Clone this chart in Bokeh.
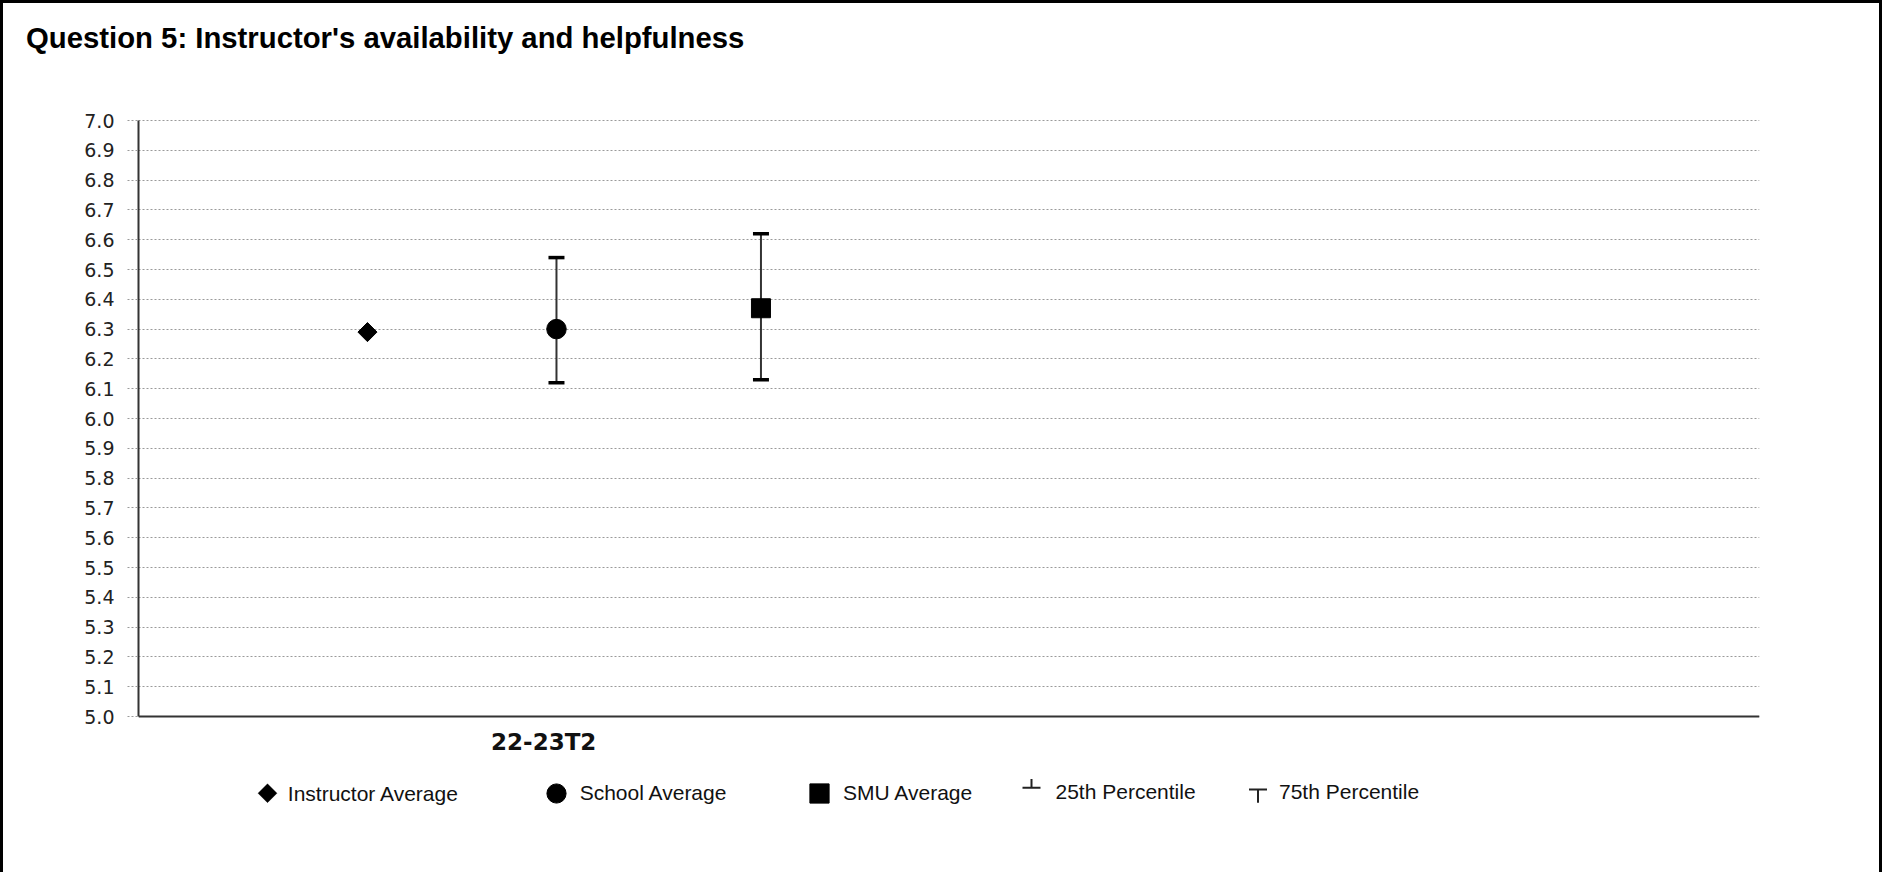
from math import pi
from bokeh.plotting import figure
from bokeh.models import (FactorRange, Range1d, FixedTicker, Whisker, TeeHead,
                          ColumnDataSource, Legend, LegendItem, Label, Arrow,
                          PolyAnnotation)
from bokeh.transform import dodge
from bokeh.embed import file_html
from bokeh.resources import INLINE

# ---------------- data ----------------
title_text = "Question 5: Instructor's availability and helpfulness"
terms = ["22-23T2", " "]          # category slots on the x axis (second is empty)
term = ["22-23T2"]
instructor_avg = [6.29]
school_avg = [6.30]
school_p25 = [6.12]
school_p75 = [6.54]
smu_avg = [6.37]
smu_p25 = [6.13]
smu_p75 = [6.62]
y_ticks = [5.0, 5.1, 5.2, 5.3, 5.4, 5.5, 5.6, 5.7, 5.8, 5.9, 6.0,
           6.1, 6.2, 6.3, 6.4, 6.5, 6.6, 6.7, 6.8, 6.9, 7.0]
y_tick_labels = ["5.0", "5.1", "5.2", "5.3", "5.4", "5.5", "5.6", "5.7", "5.8", "5.9", "6.0",
                 "6.1", "6.2", "6.3", "6.4", "6.5", "6.6", "6.7", "6.8", "6.9", "7.0"]
legend_labels = ["Instructor Average", "School Average", "SMU Average",
                 "25th Percentile", "75th Percentile"]
y_min, y_max = 5.0, 7.0

# ---------------- geometry (canvas pixels) ----------------
W, H = 1882, 872
FL, FR = 135, 1756                  # frame left / right
TOP_Y = 117                         # where y = 7.0 sits
AXIS_Y = 713                        # where y = 5.0 sits
FT = 65                             # frame top (title panel above it)
MB = 50                             # bottom border (x-axis panel)
FB = H - MB                         # frame bottom; legend lives inside the frame
ppu = (AXIS_Y - TOP_Y) / (y_max - y_min)
y_lo = y_min - (FB - AXIS_Y) / ppu
y_hi = y_max + (TOP_Y - FT) / ppu

p = figure(width=W, height=H, output_backend="svg", toolbar_location=None,
           x_range=FactorRange(factors=terms), y_range=Range1d(y_lo, y_hi),
           min_border_left=FL, min_border_right=W - FR, min_border_top=FT,
           min_border_bottom=MB)
p.styles = {"border": "3px solid black", "border-bottom": "none"}
p.background_fill_color = "white"
p.border_fill_color = "white"
p.outline_line_color = None

# title
p.title.text = title_text
p.title.text_font = "Liberation Sans"
p.title.text_font_style = "bold"
p.title.text_font_size = "29.3px"
p.title.text_color = "black"
p.title.align = "left"
p.title.offset = -112.5
p.title.standoff = 30

p.xgrid.visible = False
p.ygrid.ticker = FixedTicker(ticks=y_ticks)
p.ygrid.grid_line_color = "#9a9a9a"
p.ygrid.grid_line_dash = "2 2"
p.ygrid.grid_line_width = 1

ya = p.yaxis[0]
ya.ticker = FixedTicker(ticks=y_ticks)
ya.bounds = (y_min, y_max)
ya.major_label_overrides = {t: l for t, l in zip(y_ticks, y_tick_labels)}
ya.axis_line_color = "#333333"
ya.axis_line_width = 2
ya.major_tick_in = 0
ya.major_tick_out = 11
ya.major_tick_line_color = "#9a9a9a"
ya.major_tick_line_dash = "2 2"
ya.minor_tick_line_color = None
ya.major_label_standoff = 13
ya.major_label_text_font = "DejaVu Sans"
ya.major_label_text_font_size = "19px"
ya.major_label_text_color = "#222222"

xa = p.xaxis[0]
xa.fixed_location = y_min
xa.axis_line_color = "#333333"
xa.axis_line_width = 2
xa.major_tick_in = 0
xa.major_tick_out = 0
xa.minor_tick_line_color = None
xa.major_label_standoff = 12
xa.major_label_text_font = "DejaVu Sans"
xa.major_label_text_font_style = "bold"
xa.major_label_text_font_size = "23px"
xa.major_label_text_color = "#111111"

off_inst, off_school, off_smu = -0.2175, 0.0157, 0.268

src_inst = ColumnDataSource(dict(term=term, avg=instructor_avg))
src_school = ColumnDataSource(dict(term=term, avg=school_avg, p25=school_p25, p75=school_p75))
src_smu = ColumnDataSource(dict(term=term, avg=smu_avg, p25=smu_p25, p75=smu_p75))

for src, off in ((src_school, off_school), (src_smu, off_smu)):
    w = Whisker(base=dodge("term", off, range=p.x_range), upper="p75", lower="p25",
                source=src, dimension="height", line_color="#333333", line_width=2,
                upper_head=TeeHead(size=16, line_width=3.5, line_color="black"),
                lower_head=TeeHead(size=16, line_width=3.5, line_color="black"))
    p.add_layout(w)

r_inst = p.scatter(x=dodge("term", off_inst, range=p.x_range), y="avg", source=src_inst,
                   marker="square", angle=pi / 4, size=13.5, color="black")
r_school = p.scatter(x=dodge("term", off_school, range=p.x_range), y="avg", source=src_school,
                     marker="circle", size=19.5, color="black")
r_smu = p.scatter(x=dodge("term", off_smu, range=p.x_range), y="avg", source=src_smu,
                  marker="square", size=19, color="black")

# ---------------- legend (inside the extended frame, below the x axis) ----------------
LEG_Y = 32.3           # key centre, pixels above the frame bottom
TXT = dict(text_font="Liberation Sans", text_font_size="21px", text_color="#111111",
           text_baseline="middle")

def make_legend(label, renderer, x):
    leg = Legend(items=[LegendItem(label=label, renderers=[renderer])],
                 location=(x, LEG_Y - 24), orientation="horizontal",
                 border_line_color=None, background_fill_alpha=0,
                 padding=0, margin=0, spacing=0,
                 glyph_width=48, glyph_height=48, label_standoff=-4,
                 label_text_font="Liberation Sans", label_text_font_size="21px",
                 label_text_color="#111111")
    p.add_layout(leg)

# instructor key: a square turned 45 degrees, like the plotted marker
cx, r = 129, 9.5
p.add_layout(PolyAnnotation(xs=[cx, cx + r, cx, cx - r], ys=[LEG_Y + r, LEG_Y, LEG_Y - r, LEG_Y],
                            xs_units="screen", ys_units="screen",
                            fill_color="black", fill_alpha=1, line_color="black",
                            line_width=1))
p.add_layout(Label(x=149.3, y=LEG_Y, x_units="screen", y_units="screen",
                   text=legend_labels[0], **TXT))

make_legend(legend_labels[1], r_school, 393.7)
make_legend(legend_labels[2], r_smu, 657)

# percentile keys: tack symbols drawn as arrows with tee heads
p.add_layout(Arrow(x_start=893, y_start=46.5, x_end=893, y_end=37.7,
                   start_units="screen", end_units="screen",
                   line_color="#222222", line_width=2,
                   end=TeeHead(size=18, line_width=2, line_color="#222222")))
p.add_layout(Arrow(x_start=1119.5, y_start=22.8, x_end=1119.5, y_end=36,
                   start_units="screen", end_units="screen",
                   line_color="#222222", line_width=2,
                   end=TeeHead(size=18, line_width=2, line_color="#222222")))
for txt, x in ((legend_labels[3], 917), (legend_labels[4], 1140.5)):
    p.add_layout(Label(x=x, y=34, x_units="screen", y_units="screen", text=txt, **TXT))

open("out.html", "w").write(file_html(p, INLINE))
